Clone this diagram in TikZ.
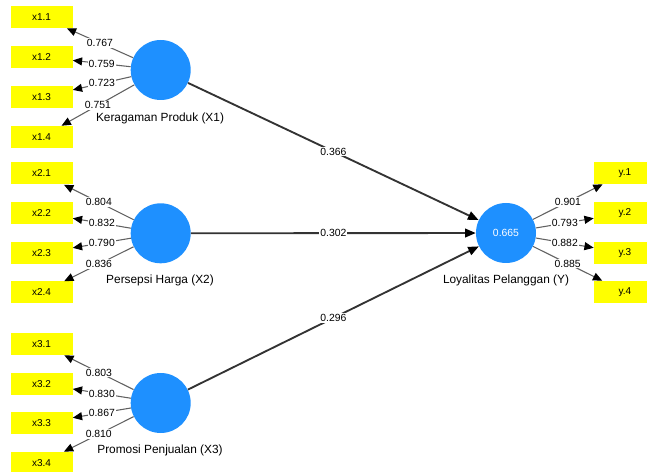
\documentclass[tikz,border=0pt]{standalone}
\usepackage{fontspec}
\setmainfont{Liberation Sans}
\usetikzlibrary{arrows.meta}
\definecolor{lvblue}{RGB}{30,144,255}
\definecolor{indyellow}{RGB}{255,255,0}
\begin{document}
\begin{tikzpicture}[x=0.75pt,y=-0.75pt,
  indbox/.style={fill=indyellow, minimum width=46.5pt, minimum height=16.5pt, inner sep=0pt, font=\fontsize{7.5}{9}\selectfont},
  latent/.style={circle, fill=lvblue, minimum size=45pt, inner sep=0pt, text=white, font=\fontsize{7.8}{9}\selectfont},
  lvlabel/.style={font=\fontsize{8.9}{10}\selectfont},
  wlabel/.style={fill=white, inner sep=0.8pt, font=\fontsize{7.8}{9}\selectfont},
  loadarrow/.style={draw=black!62, line width=0.8pt, -{Triangle[length=7pt,width=6pt,color=black]}},
  patharrow/.style={draw=black!80, line width=1.4pt, -{Triangle[length=8pt,width=6.5pt,color=black]}}]
\useasboundingbox (0,0) rectangle (647,474);
\clip (0,0) rectangle (647,471);

% latent variables
\node[latent] (X1) at (160.7,70) {};
\node[latent] (X2) at (160.7,233.3) {};
\node[latent] (X3) at (160.7,403) {};
\node[latent] (Y) at (506,233) {0.665};

\node[lvlabel] (lX1) at (160,118) {Keragaman Produk (X1)};
\node[lvlabel] (lX2) at (160,280) {Persepsi Harga (X2)};
\node[lvlabel] (lX3) at (160,450.5) {Promosi Penjualan (X3)};
\node[lvlabel] (lY) at (506,280) {Loyalitas Pelanggan (Y)};

% indicators
\node[indbox] (x11) at (41.5,17) {x1.1};
\node[indbox] (x12) at (41.5,57) {x1.2};
\node[indbox] (x13) at (41.5,97) {x1.3};
\node[indbox] (x14) at (41.5,137) {x1.4};
\node[indbox] (x21) at (41.5,173.5) {x2.1};
\node[indbox] (x22) at (41.5,213) {x2.2};
\node[indbox] (x23) at (41.5,253) {x2.3};
\node[indbox] (x24) at (41.5,292.5) {x2.4};
\node[indbox] (x31) at (41.5,344) {x3.1};
\node[indbox] (x32) at (41.5,384) {x3.2};
\node[indbox] (x33) at (41.5,423) {x3.3};
\node[indbox] (x34) at (41.5,463) {x3.4};
\node[indbox] (y1) at (625,173) {y.1};
\node[indbox] (y2) at (625,213) {y.2};
\node[indbox] (y3) at (625,253) {y.3};
\node[indbox] (y4) at (625,292) {y.4};

% loadings
\draw[loadarrow] (X1) -- node[wlabel]{0.767} (x11);
\draw[loadarrow] (X1) -- node[wlabel]{0.759} (x12);
\draw[loadarrow] (X1) -- node[wlabel]{0.723} (x13);
\draw[loadarrow] (X1) -- node[wlabel]{0.751} (x14);
\draw[loadarrow] (X2) -- node[wlabel]{0.804} (x21);
\draw[loadarrow] (X2) -- node[wlabel]{0.832} (x22);
\draw[loadarrow] (X2) -- node[wlabel]{0.790} (x23);
\draw[loadarrow] (X2) -- node[wlabel]{0.836} (x24);
\draw[loadarrow] (X3) -- node[wlabel]{0.803} (x31);
\draw[loadarrow] (X3) -- node[wlabel]{0.830} (x32);
\draw[loadarrow] (X3) -- node[wlabel]{0.867} (x33);
\draw[loadarrow] (X3) -- node[wlabel]{0.810} (x34);
\draw[loadarrow] (Y) -- node[wlabel]{0.901} (y1);
\draw[loadarrow] (Y) -- node[wlabel]{0.793} (y2);
\draw[loadarrow] (Y) -- node[wlabel]{0.882} (y3);
\draw[loadarrow] (Y) -- node[wlabel]{0.885} (y4);

% paths
\draw[patharrow] (X1) -- node[wlabel]{0.366} (Y);
\draw[patharrow] (X2) -- node[wlabel]{0.302} (Y);
\draw[patharrow] (X3) -- node[wlabel]{0.296} (Y);
\end{tikzpicture}
\end{document}
